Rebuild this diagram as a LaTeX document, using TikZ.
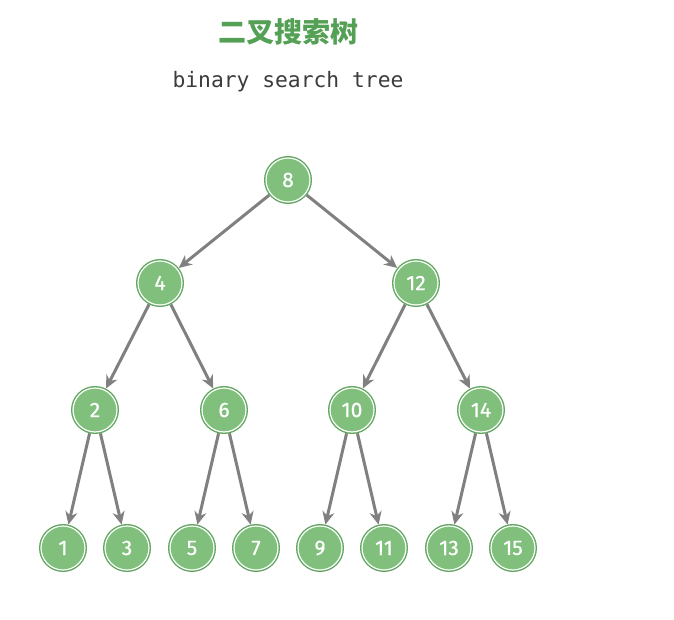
\documentclass[tikz,border=0pt]{standalone}
\usepackage{fontspec}
\setmainfont{Fira Sans}
\setmonofont{DejaVu Sans Mono}
\newfontfamily\cjk{Noto Sans CJK SC}
\newfontfamily\numfont[FakeBold=0.6]{Fira Sans}
\usepackage{xcolor}
\usetikzlibrary{positioning,arrows.meta}

\definecolor{leafgreen}{RGB}{128,192,124}
\definecolor{ringgreen}{RGB}{96,168,96}
\definecolor{titlegreen}{RGB}{84,160,84}
\definecolor{edgegray}{RGB}{128,128,128}
\definecolor{subgray}{RGB}{60,60,60}

\begin{document}
\begin{tikzpicture}[x=1pt,y=-1pt,
    treenode/.style={circle, minimum size=44pt, inner sep=0pt, outer sep=2pt,
        fill=leafgreen, draw=white, line width=1.2pt,
        preaction={draw=ringgreen, line width=4pt},
        text=white, font=\numfont\fontsize{21}{21}\selectfont},
    edge/.style={draw=edgegray, line width=3pt,
        -{Stealth[length=13pt,width=12pt]}}]
    \useasboundingbox (0,0) rectangle (674,620);

    % Title
    \node[text=titlegreen, font=\cjk\bfseries\fontsize{28}{28}\selectfont] (title) at (288,32) {二叉搜索树};
    \node[text=subgray, font=\ttfamily\fontsize{21.3}{21.3}\selectfont] (subtitle) at (288,82) {binary search tree};

    % Nodes
    \node[treenode] (n8) at (288,180) {8};

    \node[treenode] (n4) at (160,283) {4};
    \node[treenode] (n12) at (416,283) {12};

    \node[treenode] (n2) at (95,410) {2};
    \node[treenode] (n6) at (224,410) {6};
    \node[treenode] (n10) at (352,410) {10};
    \node[treenode] (n14) at (481,410) {14};

    \node[treenode] (n1) at (63,548) {1};
    \node[treenode] (n3) at (127,548) {3};
    \node[treenode] (n5) at (192,548) {5};
    \node[treenode] (n7) at (256,548) {7};
    \node[treenode] (n9) at (320,548) {9};
    \node[treenode] (n11) at (384,548) {11};
    \node[treenode] (n13) at (449,548) {13};
    \node[treenode] (n15) at (513,548) {15};

    % Edges
    \draw[edge] (n8) -- (n4);
    \draw[edge] (n8) -- (n12);
    \draw[edge] (n4) -- (n2);
    \draw[edge] (n4) -- (n6);
    \draw[edge] (n12) -- (n10);
    \draw[edge] (n12) -- (n14);
    \draw[edge] (n2) -- (n1);
    \draw[edge] (n2) -- (n3);
    \draw[edge] (n6) -- (n5);
    \draw[edge] (n6) -- (n7);
    \draw[edge] (n10) -- (n9);
    \draw[edge] (n10) -- (n11);
    \draw[edge] (n14) -- (n13);
    \draw[edge] (n14) -- (n15);
\end{tikzpicture}
\end{document}
